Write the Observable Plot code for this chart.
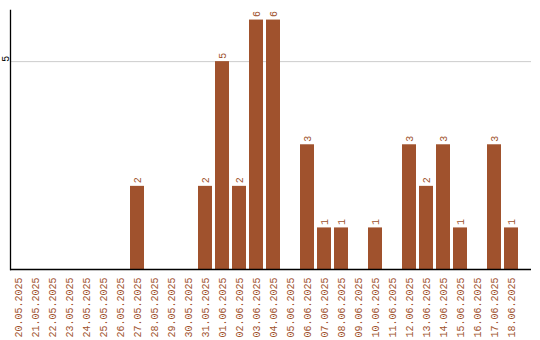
<!DOCTYPE html>
<html>
<head>
<meta charset="utf-8">
<script src="https://cdn.jsdelivr.net/npm/d3@7"></script>
<script src="https://cdn.jsdelivr.net/npm/@observablehq/plot@0.6"></script>
<style>
  html, body { margin: 0; padding: 0; background: #fff; }
  svg { display: block; }
</style>
</head>
<body>
<div id="chart"></div>
<script>
const dates = ["20.05.2025","21.05.2025","22.05.2025","23.05.2025","24.05.2025","25.05.2025","26.05.2025","27.05.2025","28.05.2025","29.05.2025","30.05.2025","31.05.2025","01.06.2025","02.06.2025","03.06.2025","04.06.2025","05.06.2025","06.06.2025","07.06.2025","08.06.2025","09.06.2025","10.06.2025","11.06.2025","12.06.2025","13.06.2025","14.06.2025","15.06.2025","16.06.2025","17.06.2025","18.06.2025"];
const counts = [0,0,0,0,0,0,0,2,0,0,0,2,5,2,6,6,0,3,1,1,0,1,0,3,2,3,1,0,3,1];
const yTicks = [5];

const color = "#a0522d";
const data = dates.map((d, i) => ({date: d, count: counts[i]}));
const nonzero = data.filter(d => d.count > 0);

const chart = Plot.plot({
  width: 540,
  height: 340,
  marginTop: 10,
  marginBottom: 71,
  marginLeft: 10,
  marginRight: 9,
  style: {fontFamily: "'Liberation Mono', monospace", fontSize: "10px", background: "#fff"},
  x: {domain: dates, range: [10, 520], paddingInner: 0.176, paddingOuter: 0, label: null, axis: null},
  y: {domain: [0, 6.23], label: null, axis: null},
  marks: [
    Plot.gridY(yTicks, {stroke: "#ccc", strokeOpacity: 1}),
    Plot.barY(nonzero, {x: "date", y: "count", fill: color}),
    Plot.text(nonzero, {x: "date", y: "count", text: d => String(d.count), rotate: -90, textAnchor: "start", dy: -3, fill: color}),
    Plot.text(yTicks, {y: d => d, text: d => String(d), frameAnchor: "left", rotate: -90, dx: -5, fill: "#000"}),
    Plot.axisX({tickRotate: -90, tickSize: 0, tickPadding: 8, fill: color, label: null}),
    Plot.frame({anchor: "left", stroke: "#000", strokeWidth: 1.3}),
    Plot.ruleY([0], {stroke: "#000", strokeWidth: 1.3})
  ]
});
document.getElementById("chart").appendChild(chart);
</script>
</body>
</html>
